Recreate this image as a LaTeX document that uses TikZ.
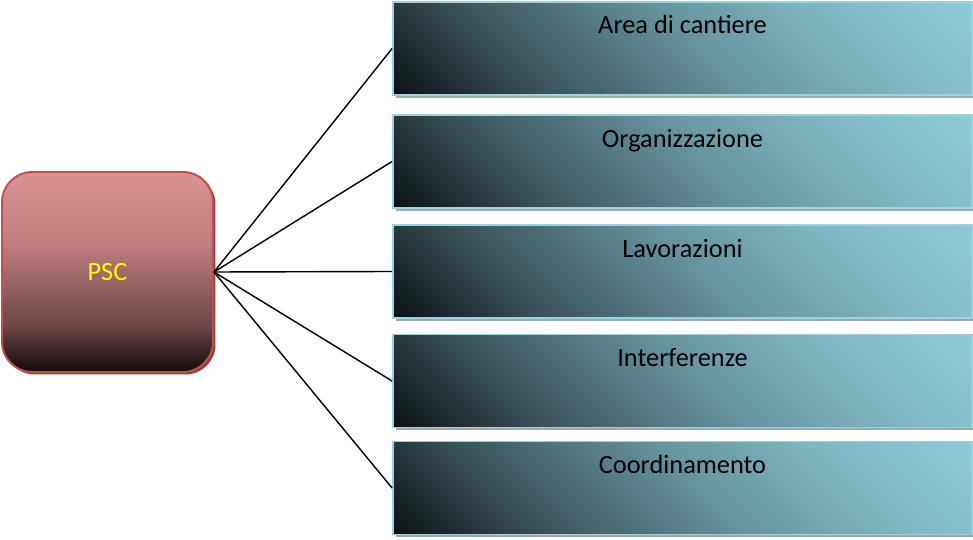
\documentclass[tikz,border=0pt]{standalone}
\usepackage{fontspec}
\setmainfont{Carlito}
\usepackage{tikz}
\usetikzlibrary{positioning,shadows}
\definecolor{psctop}{RGB}{218,146,146}
\definecolor{pscA}{RGB}{190,125,125}
\definecolor{pscB}{RGB}{110,70,72}
\definecolor{pscbot}{RGB}{18,10,10}
\definecolor{pscline}{RGB}{192,80,77}
\definecolor{pscshadow}{RGB}{150,60,58}
\definecolor{vocedark}{RGB}{10,16,18}
\definecolor{voceA}{RGB}{60,85,92}
\definecolor{voceB}{RGB}{104,150,160}
\definecolor{voceC}{RGB}{128,185,197}
\definecolor{vocelight}{RGB}{142,202,214}
\definecolor{voceline}{RGB}{156,210,222}
\definecolor{voceshadow}{RGB}{150,170,176}
\definecolor{pscyellow}{RGB}{255,255,0}
\pgfdeclareverticalshading{pscgrad}{100bp}{color(0bp)=(pscbot); color(25bp)=(pscbot);
  color(36.75bp)=(pscB); color(56.75bp)=(pscA);
  color(75bp)=(psctop); color(100bp)=(psctop)}
\pgfdeclarehorizontalshading{vocegrad}{100bp}{color(0bp)=(vocedark); color(25bp)=(vocedark);
  color(37bp)=(voceA); color(52bp)=(voceB); color(64bp)=(voceC);
  color(75bp)=(vocelight); color(100bp)=(vocelight)}

\begin{document}
\begin{tikzpicture}[x=0.02cm,y=-0.02cm,
  psc/.style={draw=pscline,line width=1.1pt,rounded corners=0.6cm,
    shading=pscgrad,
    minimum width=4.22cm,minimum height=4cm,
    text=pscyellow,font=\fontsize{15}{17}\selectfont,
    drop shadow={shadow xshift=0.05cm,shadow yshift=-0.05cm,fill=pscshadow,opacity=1}},
  voce/.style={draw=voceline,line width=1.1pt,
    path picture={
      \begin{scope}[transform canvas={rotate around={45:(path picture bounding box.center)}}]
        \shade[shading=vocegrad]
          (path picture bounding box.center) ++(-4.76cm,-4.76cm) rectangle ++(9.52cm,9.52cm);
      \end{scope}},
    minimum width=11.58cm,inner xsep=0pt,inner ysep=0pt,
    text height=0.64cm,text depth=1.22cm,
    font=\fontsize{15}{17}\selectfont,
    drop shadow={shadow xshift=0.05cm,shadow yshift=-0.06cm,fill=voceshadow,opacity=1}}]
\useasboundingbox (0,0) rectangle (973,540);
\node[psc] (psc) at (107.5,272) {PSC};
\foreach \i/\y/\t in {1/48.5/Area di cantiere, 2/161.5/Organizzazione,
  3/271.5/Lavorazioni, 4/381/Interferenze, 5/488/Coordinamento}
{
  \node[voce] (v\i) at (682.5,\y) {\t};
  \draw[line width=0.8pt] (psc.east) -- (v\i.west);
}
\end{tikzpicture}
\end{document}
